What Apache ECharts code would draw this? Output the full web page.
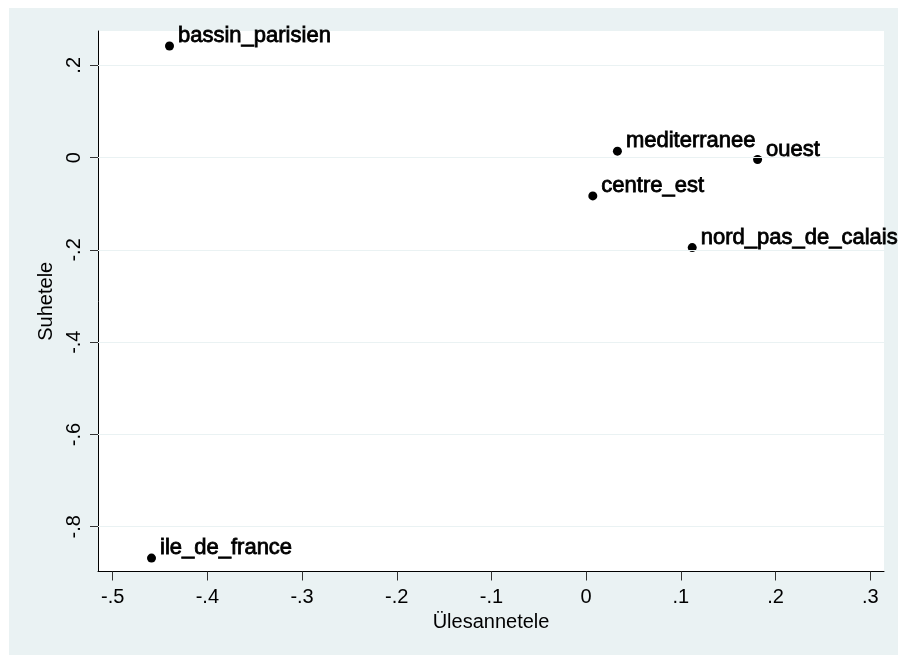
<!DOCTYPE html>
<html>
<head>
<meta charset="utf-8">
<script src="https://cdn.jsdelivr.net/npm/echarts@6/dist/echarts.min.js"></script>
<style>
  html, body { margin: 0; padding: 0; background: #fff; }
  .outer-bg {
    position: absolute; left: 9px; top: 8px; width: 889px; height: 647px;
    background: #EAF2F3;
  }
  #chart { position: absolute; left: 0; top: 0; width: 898px; height: 655px; }
</style>
</head>
<body>
<div class="outer-bg"></div>
<div id="chart"></div>
<script>
// regions and their coordinates
const regions = ['bassin_parisien', 'mediterranee', 'ouest', 'centre_est', 'nord_pas_de_calais', 'ile_de_france']
const xValues = [-0.440, 0.033, 0.181, 0.007, 0.112, -0.459]
const yValues = [0.242, 0.014, -0.004, -0.083, -0.195, -0.868]

// tick labels
const xTicks = [-0.5, -0.4, -0.3, -0.2, -0.1, 0, 0.1, 0.2, 0.3]
const yTicks = [-0.8, -0.6, -0.4, -0.2, 0, 0.2]

// stata style: .2, -.4, 0
const fmt = v => {
  if (Math.abs(v) < 1e-9) return '0'
  return String(+v.toFixed(2)).replace('0.', '.')
}

const chart = echarts.init(document.getElementById('chart'))

const font = 'Liberation Sans, Arial, Helvetica, sans-serif'

const option = {
  backgroundColor: 'transparent',
  animation: false,
  grid: {
    left: 98,
    right: 14,
    top: 31,
    bottom: 83.5,
    show: true,
    backgroundColor: '#fff',
    borderWidth: 0
  },
  xAxis: {
    type: 'value',
    min: -0.5155,
    max: 0.3145,
    name: 'Ülesannetele',
    nameLocation: 'middle',
    nameGap: 41,
    nameTextStyle: { fontFamily: font, fontSize: 20, color: '#000' },
    axisLine: { show: true, onZero: false, lineStyle: { color: '#000', width: 1 } },
    axisTick: { show: true, length: 9, customValues: xTicks, lineStyle: { color: '#333' } },
    axisLabel: {
      customValues: xTicks,
      formatter: fmt,
      margin: 16,
      fontFamily: font,
      fontSize: 20,
      color: '#000'
    },
    splitLine: { show: false }
  },
  yAxis: {
    type: 'value',
    min: -0.897,
    max: 0.2744,
    name: 'Suhetele',
    nameLocation: 'middle',
    nameGap: 40,
    nameTextStyle: { fontFamily: font, fontSize: 20, color: '#000' },
    axisLine: { show: true, onZero: false, lineStyle: { color: '#000', width: 1 } },
    axisTick: { show: true, length: 8, customValues: yTicks, lineStyle: { color: '#333' } },
    axisLabel: {
      customValues: yTicks,
      formatter: fmt,
      rotate: 90,
      margin: 14,
      fontFamily: font,
      fontSize: 20,
      color: '#000'
    },
    splitLine: { show: false }
  },
  series: [
    {
      type: 'scatter',
      symbol: 'circle',
      symbolSize: 9,
      itemStyle: { color: '#000', opacity: 1 },
      data: regions.map((r, i) => ({ name: r, value: [xValues[i], yValues[i]] })),
      label: {
        show: true,
        position: 'right',
        distance: 4,
        offset: [0, -10],
        formatter: p => p.name,
        fontFamily: font,
        fontSize: 22,
        color: '#000',
        textBorderColor: '#000',
        textBorderWidth: 0.8
      },
      markLine: {
        silent: true,
        symbol: 'none',
        label: { show: false },
        lineStyle: { color: '#EAF2F3', width: 1, type: 'solid' },
        data: yTicks.map(v => ({ yAxis: v }))
      },
      z: 3
    }
  ]
}

chart.setOption(option)
</script>
</body>
</html>
